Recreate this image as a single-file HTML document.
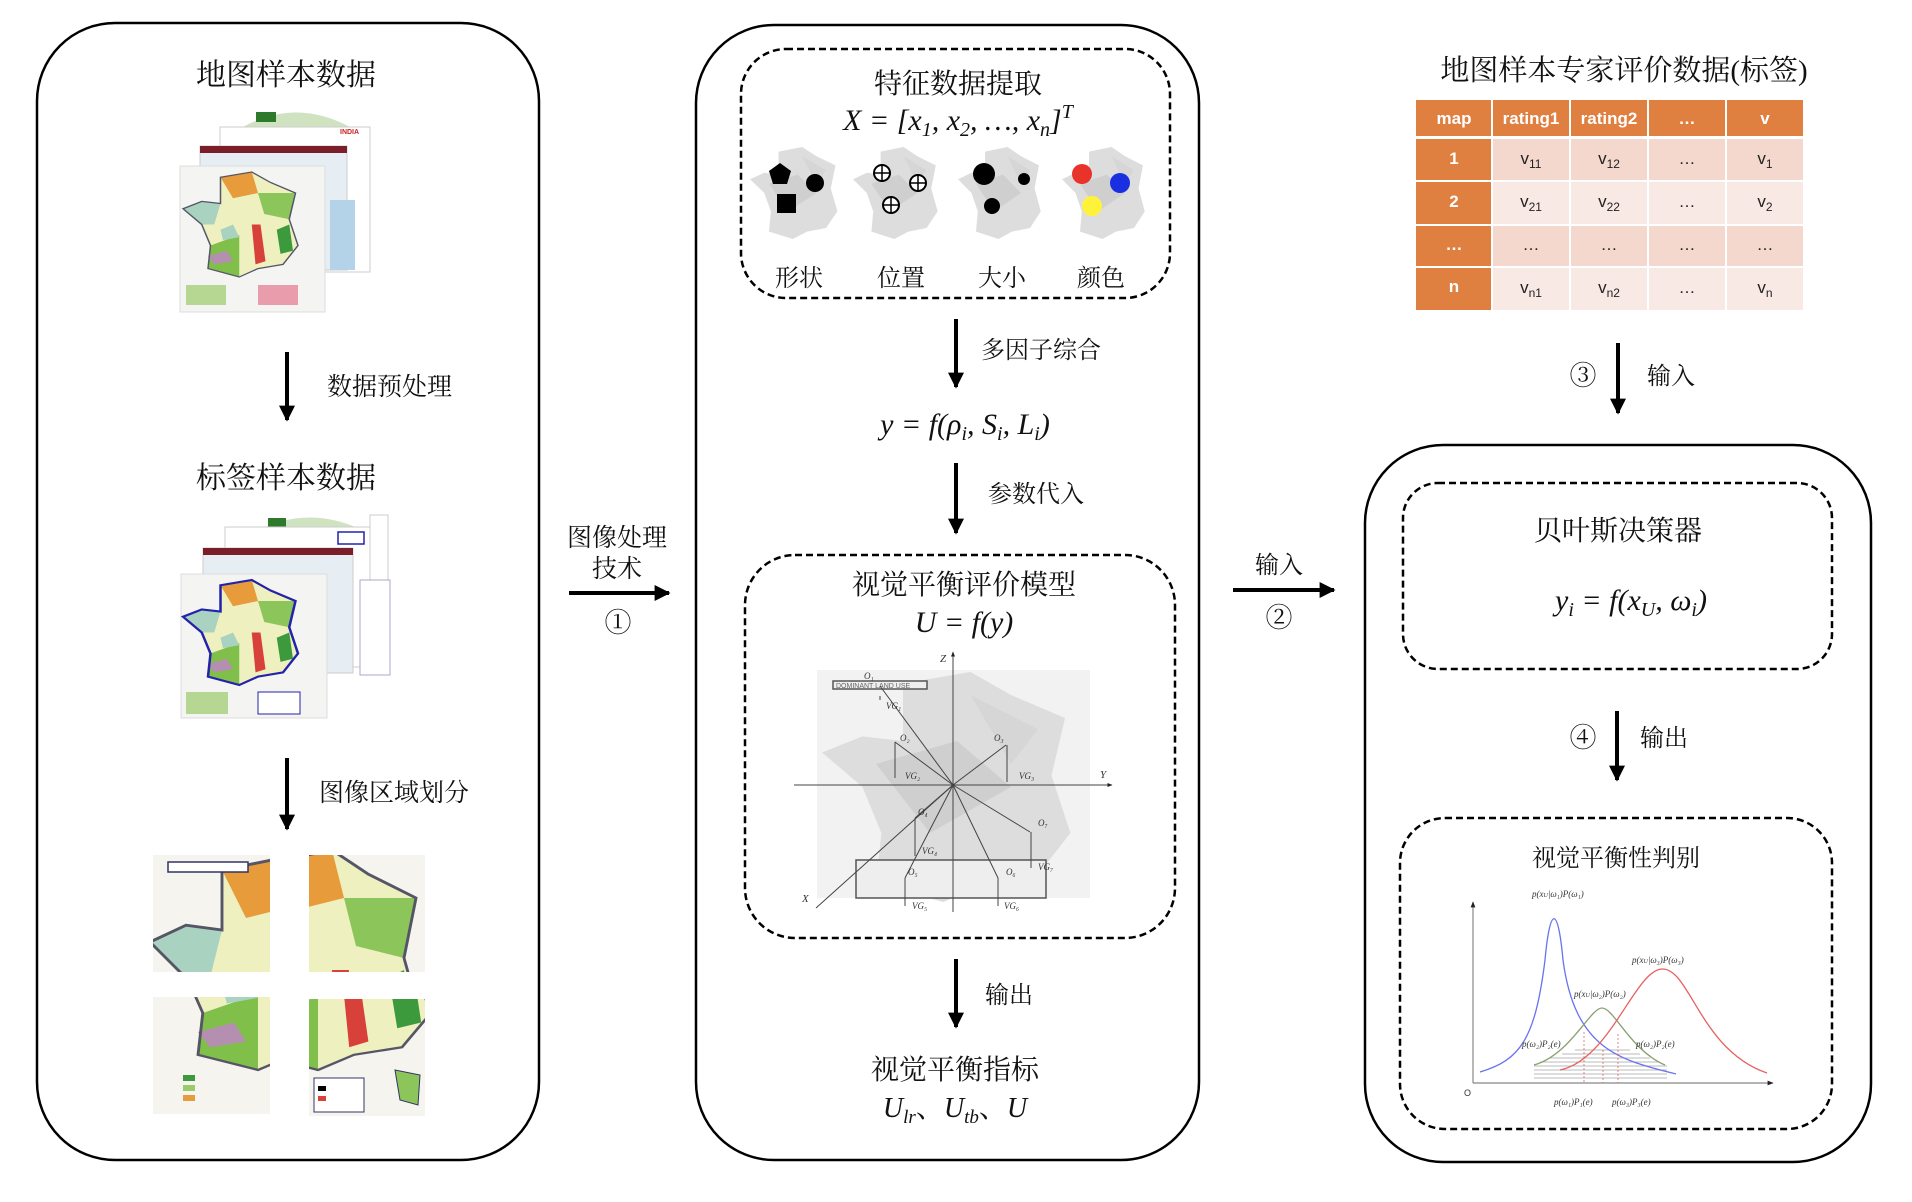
<!DOCTYPE html>
<html><head><meta charset="utf-8"><style>
html,body{margin:0;padding:0;background:#fff;}
svg{display:block;}
.cj{font-family:"Liberation Serif","Noto Serif CJK SC",serif;fill:#111;}
.m{font-family:"Liberation Serif",serif;font-style:italic;fill:#111;}
.tb{font-family:"Liberation Sans",sans-serif;font-size:17px;fill:#fff;font-weight:bold;text-anchor:middle;}
.td{font-family:"Liberation Sans",sans-serif;font-size:17px;fill:#222;text-anchor:middle;}
.s{font-family:"Liberation Serif",serif;font-style:italic;font-size:9px;fill:#333;}
</style></head><body>
<svg width="1912" height="1202" viewBox="0 0 1912 1202" xmlns="http://www.w3.org/2000/svg">
<defs>
<path id="fr" d="M30,5 L55,0 L70,10 L90,20 L85,45 L92,70 L80,88 L60,92 L45,100 L20,92 L22,70 L15,50 L0,35 L15,28 L30,30 Z"/>
<marker id="ah" viewBox="0 0 10 10" refX="9" refY="5" markerWidth="4" markerHeight="4" orient="auto"><path d="M0,0 L10,5 L0,10 Z" fill="#000"/></marker>
<marker id="sa" viewBox="0 0 10 10" refX="9" refY="5" markerWidth="5" markerHeight="5" orient="auto"><path d="M0,1 L10,5 L0,9 Z" fill="#222"/></marker>
<clipPath id="c1"><rect x="153" y="855" width="117" height="117"/></clipPath>
<clipPath id="c2"><rect x="309" y="855" width="116" height="117"/></clipPath>
<clipPath id="c3"><rect x="153" y="997" width="117" height="117"/></clipPath>
<clipPath id="c4"><rect x="309" y="999" width="116" height="117"/></clipPath>
<g id="cmap">
 <use href="#fr" fill="#eef0c0"/>
 <path d="M30,5 L55,0 L60,20 L40,25Z" fill="#e79b3a"/>
 <path d="M0,35 L15,28 L30,30 L25,50 L15,50Z" fill="#a9d3c0"/>
 <path d="M60,20 L90,20 L85,45 L65,40Z" fill="#8cc65a"/>
 <path d="M22,70 L45,60 L45,100 L20,92Z" fill="#7fbf4a"/>
 <path d="M55,50 L62,50 L66,85 L58,88Z" fill="#d8413a"/>
 <path d="M75,55 L85,50 L88,75 L78,78Z" fill="#3c9a3c"/>
 <path d="M30,55 L40,50 L45,62 L32,65Z" fill="#a9d3c0"/>
 <path d="M20,80 L35,75 L40,85 L25,88Z" fill="#b58fb0"/>
 <use href="#fr" fill="none" stroke="#556" stroke-width="1.2"/>
</g>
<g id="gmap"><use href="#fr" fill="#ddd"/><path d="M20,40 L50,30 L70,50 L40,70Z" fill="#cfcfcf"/><path d="M55,10 L80,25 L70,40Z" fill="#d6d6d6"/></g>
</defs>

<!-- panels -->
<rect x="37" y="23" width="502" height="1137" rx="78" fill="none" stroke="#000" stroke-width="2.5"/>
<rect x="696" y="25" width="503" height="1135" rx="78" fill="none" stroke="#000" stroke-width="2.5"/>
<rect x="1365" y="445" width="506" height="717" rx="78" fill="none" stroke="#000" stroke-width="2.5"/>
<rect x="741" y="49" width="429" height="249" rx="45" fill="none" stroke="#000" stroke-width="2.5" stroke-dasharray="7,4"/>
<rect x="745" y="555" width="430" height="383" rx="50" fill="none" stroke="#000" stroke-width="2.5" stroke-dasharray="7,4"/>
<rect x="1403" y="483" width="429" height="186" rx="35" fill="none" stroke="#000" stroke-width="2.5" stroke-dasharray="7,4"/>
<rect x="1400" y="818" width="432" height="311" rx="45" fill="none" stroke="#000" stroke-width="2.5" stroke-dasharray="7,4"/>

<!-- LEFT PANEL -->
<text class="cj" x="286" y="85" font-size="30" text-anchor="middle">地图样本数据</text>
<g>
 <path d="M243,127 Q296,98 350,127Z" fill="#cfe3c0"/><rect x="256" y="112" width="20" height="10" fill="#2d7a2d"/>
 <rect x="220" y="127" width="150" height="145" fill="#fff" stroke="#ccc"/>
 <text x="340" y="134" font-size="7" fill="#c22" font-family="Liberation Sans" font-weight="bold">INDIA</text>
 <rect x="200" y="146" width="147" height="124" fill="#e6eef4" stroke="#ccc"/>
 <rect x="200" y="146" width="147" height="7" fill="#7a1e2a"/>
 <rect x="330" y="200" width="25" height="70" fill="#b5d3e8"/>
 <rect x="180" y="166" width="145" height="146" fill="#f4f4f2" stroke="#ddd"/>
 <use href="#cmap" transform="translate(183,172) scale(1.25,1.05)"/>
 <rect x="186" y="285" width="40" height="20" fill="#9acb6a" opacity=".7"/><rect x="258" y="285" width="40" height="20" fill="#d46" opacity=".5"/>
</g>
<line x1="287" y1="352" x2="287" y2="420" stroke="#000" stroke-width="4" marker-end="url(#ah)"/>
<text class="cj" x="327" y="395" font-size="25">数据预处理</text>
<text class="cj" x="286" y="488" font-size="30" text-anchor="middle">标签样本数据</text>
<g>
 <path d="M258,530 Q310,505 362,530Z" fill="#cfe3c0"/><rect x="268" y="518" width="18" height="10" fill="#2d7a2d"/>
 <rect x="225" y="527" width="147" height="140" fill="#fff" stroke="#ccc"/>
 <rect x="338" y="532" width="26" height="12" fill="#fff" stroke="#22a" stroke-width="1.5"/>
 <rect x="370" y="515" width="18" height="100" fill="#fff" stroke="#ccc"/>
 <rect x="203" y="548" width="150" height="125" fill="#e6eef4" stroke="#ccc"/>
 <rect x="203" y="548" width="150" height="7" fill="#7a1e2a"/>
 <rect x="360" y="580" width="30" height="95" fill="#fff" stroke="#aac"/>
 <rect x="181" y="574" width="146" height="144" fill="#f4f4f2" stroke="#ddd"/>
 <use href="#cmap" transform="translate(183,580) scale(1.25,1.05)"/>
 <use href="#fr" transform="translate(183,580) scale(1.25,1.05)" fill="none" stroke="#22a" stroke-width="2"/>
 <rect x="186" y="692" width="42" height="22" fill="#9acb6a" opacity=".7"/><rect x="258" y="692" width="42" height="22" fill="#fff" stroke="#22a"/>
</g>
<line x1="287" y1="758" x2="287" y2="829" stroke="#000" stroke-width="4" marker-end="url(#ah)"/>
<text class="cj" x="319" y="801" font-size="25">图像区域划分</text>
<!-- tiles -->
<g clip-path="url(#c1)">
 <rect x="153" y="855" width="117" height="117" fill="#f5f4ee"/>
 <use href="#cmap" transform="translate(150,858) scale(2.4,2.4)"/>
 <rect x="168" y="862" width="80" height="10" fill="#fff" stroke="#336" stroke-width="1.5"/>
</g>
<g clip-path="url(#c2)">
 <rect x="309" y="855" width="116" height="117" fill="#f5f4ee"/>
 <use href="#cmap" transform="translate(200,850) scale(2.4,2.4)"/>
</g>
<g clip-path="url(#c3)">
 <rect x="153" y="997" width="117" height="117" fill="#f5f4ee"/>
 <use href="#cmap" transform="translate(150,880) scale(2.4,1.9)"/>
 <rect x="183" y="1075" width="12" height="6" fill="#3c9a3c"/><rect x="183" y="1085" width="12" height="6" fill="#9acb6a"/><rect x="183" y="1095" width="12" height="6" fill="#e79b3a"/>
</g>
<g clip-path="url(#c4)">
 <rect x="309" y="999" width="116" height="117" fill="#f5f4ee"/>
 <use href="#cmap" transform="translate(210,880) scale(2.4,1.9)"/>
 <rect x="314" y="1078" width="50" height="34" fill="#fff" stroke="#336"/>
 <rect x="318" y="1086" width="8" height="5" fill="#000"/><rect x="318" y="1096" width="8" height="5" fill="#d8413a"/>
 <path d="M395,1070 L420,1075 L418,1105 L400,1100Z" fill="#8cc65a" stroke="#336"/>
</g>

<!-- between 1 and 2 -->
<text class="cj" x="617" y="546" font-size="25" text-anchor="middle">图像处理</text>
<text class="cj" x="617" y="577" font-size="25" text-anchor="middle">技术</text>
<line x1="569" y1="593" x2="669" y2="593" stroke="#000" stroke-width="4" marker-end="url(#ah)"/>
<text class="cj" x="618" y="632" font-size="27" text-anchor="middle">①</text>

<!-- MIDDLE -->
<text class="cj" x="958" y="93" font-size="28" text-anchor="middle">特征数据提取</text>
<text class="m" x="958" y="130" font-size="30" text-anchor="middle">X = [x<tspan font-size="20" dy="6">1</tspan><tspan dy="-6">, x</tspan><tspan font-size="20" dy="6">2</tspan><tspan dy="-6">, …, x</tspan><tspan font-size="20" dy="6">n</tspan><tspan dy="-6">]</tspan><tspan font-size="20" dy="-12">T</tspan></text>
<use href="#gmap" transform="translate(750,147) scale(0.95,0.92)"/>
<use href="#gmap" transform="translate(853,147) scale(0.92,0.92)"/>
<use href="#gmap" transform="translate(958,147) scale(0.9,0.92)"/>
<use href="#gmap" transform="translate(1062,147) scale(0.9,0.92)"/>
<path d="M780,163 L791,171 L787,184 L773,184 L769,171Z" fill="#000"/>
<circle cx="815" cy="183" r="9" fill="#000"/>
<rect x="777" y="194" width="19" height="19" fill="#000"/>
<g fill="#fff" stroke="#000" stroke-width="2">
 <circle cx="882" cy="173" r="8"/><circle cx="918" cy="183" r="8"/><circle cx="891" cy="205" r="8"/>
</g>
<g stroke="#000" stroke-width="1.5">
 <path d="M874,173 H890 M882,165 V181 M910,183 H926 M918,175 V191 M883,205 H899 M891,197 V213"/>
</g>
<circle cx="984" cy="174" r="11" fill="#000"/><circle cx="1024" cy="179" r="6" fill="#000"/><circle cx="992" cy="206" r="8" fill="#000"/>
<circle cx="1082" cy="174" r="10" fill="#e8332a"/><circle cx="1120" cy="183" r="10" fill="#1a2fe0"/><circle cx="1092" cy="206" r="10" fill="#fef33a"/>
<text class="cj" x="799" y="286" font-size="24" text-anchor="middle">形状</text>
<text class="cj" x="901" y="286" font-size="24" text-anchor="middle">位置</text>
<text class="cj" x="1002" y="286" font-size="24" text-anchor="middle">大小</text>
<text class="cj" x="1101" y="286" font-size="24" text-anchor="middle">颜色</text>

<line x1="956" y1="319" x2="956" y2="387" stroke="#000" stroke-width="4" marker-end="url(#ah)"/>
<text class="cj" x="981" y="358" font-size="24">多因子综合</text>
<text class="m" x="965" y="434" font-size="30" text-anchor="middle">y = f(ρ<tspan font-size="20" dy="6">i</tspan><tspan dy="-6">, S</tspan><tspan font-size="20" dy="6">i</tspan><tspan dy="-6">, L</tspan><tspan font-size="20" dy="6">i</tspan><tspan dy="-6">)</tspan></text>
<line x1="956" y1="463" x2="956" y2="533" stroke="#000" stroke-width="4" marker-end="url(#ah)"/>
<text class="cj" x="988" y="502" font-size="24">参数代入</text>

<text class="cj" x="964" y="594" font-size="28" text-anchor="middle">视觉平衡评价模型</text>
<text class="m" x="964" y="632" font-size="30" text-anchor="middle">U = f(y)</text>
<!-- model image -->
<rect x="817" y="670" width="273" height="228" fill="#f2f2f2"/>
<use href="#gmap" transform="translate(822,672) scale(2.7,2.3)"/>
<rect x="833" y="681" width="94" height="8" fill="#eee" stroke="#555" stroke-width="1.5"/>
<text x="836" y="688" font-size="7" fill="#666" font-family="Liberation Sans">DOMINANT LAND USE</text>
<rect x="856" y="860" width="190" height="38" fill="#eee" stroke="#555" stroke-width="1.5"/>
<line x1="794" y1="785" x2="1112" y2="785" stroke="#444" stroke-width="1" marker-end="url(#sa)"/>
<line x1="953" y1="912" x2="953" y2="652" stroke="#444" stroke-width="1" marker-end="url(#sa)"/>
<g stroke="#444" stroke-width="1">
 <line x1="953" y1="785" x2="816" y2="908"/>
 <line x1="953" y1="785" x2="880" y2="686"/>
 <line x1="953" y1="785" x2="895" y2="742"/>
 <line x1="953" y1="785" x2="1006" y2="745"/>
 <line x1="953" y1="785" x2="915" y2="818"/>
 <line x1="953" y1="785" x2="905" y2="878"/>
 <line x1="953" y1="785" x2="998" y2="878"/>
 <line x1="953" y1="785" x2="1030" y2="832"/>
 <line x1="880" y1="696" x2="880" y2="700"/><line x1="895" y1="742" x2="895" y2="778"/><line x1="1007" y1="745" x2="1007" y2="782"/>
 <line x1="915" y1="818" x2="915" y2="856"/><line x1="905" y1="878" x2="905" y2="906"/><line x1="998" y1="878" x2="998" y2="906"/><line x1="1031" y1="832" x2="1031" y2="868"/>
</g>
<g class="s" font-size="10">
 <text x="864" y="679">O₁</text><text x="886" y="709">VG₁</text><text x="900" y="741">O₂</text><text x="905" y="779">VG₂</text>
 <text x="994" y="741">O₃</text><text x="1019" y="779">VG₃</text><text x="918" y="815">O₄</text><text x="922" y="854">VG₄</text>
 <text x="908" y="875">O₅</text><text x="912" y="909">VG₅</text><text x="1006" y="875">O₆</text><text x="1004" y="909">VG₆</text>
 <text x="1038" y="826">O₇</text><text x="1038" y="870">VG₇</text>
 <text x="940" y="662" font-size="11">Z</text><text x="1100" y="778" font-size="11">Y</text><text x="802" y="902" font-size="11">X</text>
</g>

<line x1="956" y1="959" x2="956" y2="1027" stroke="#000" stroke-width="4" marker-end="url(#ah)"/>
<text class="cj" x="985" y="1003" font-size="24">输出</text>
<text class="cj" x="955" y="1079" font-size="28" text-anchor="middle">视觉平衡指标</text>
<text class="m" x="955" y="1117" font-size="28" text-anchor="middle">U<tspan font-size="19" dy="6">lr</tspan><tspan dy="-6" font-style="normal" font-family="Noto Serif CJK SC">、</tspan>U<tspan font-size="19" dy="6">tb</tspan><tspan dy="-6" font-style="normal" font-family="Noto Serif CJK SC">、</tspan>U</text>

<!-- between 2 and 3 -->
<text class="cj" x="1279" y="573" font-size="24" text-anchor="middle">输入</text>
<line x1="1233" y1="590" x2="1334" y2="590" stroke="#000" stroke-width="4" marker-end="url(#ah)"/>
<text class="cj" x="1279" y="627" font-size="27" text-anchor="middle">②</text>

<!-- RIGHT -->
<text class="cj" x="1624" y="80" font-size="29" text-anchor="middle">地图样本专家评价数据(标签)</text>
<g>
 <rect x="1416" y="100" width="387" height="36" fill="#df7f40"/>
 <rect x="1416" y="139" width="75" height="171" fill="#df7f40"/>
 <rect x="1493" y="139" width="310" height="41" fill="#f4d8cd"/>
 <rect x="1493" y="182" width="310" height="42" fill="#f9e9e4"/>
 <rect x="1493" y="226" width="310" height="40" fill="#f4d8cd"/>
 <rect x="1493" y="268" width="310" height="42" fill="#f9e9e4"/>
 <g stroke="#fff" stroke-width="2"><line x1="1492" y1="100" x2="1492" y2="310"/><line x1="1570" y1="100" x2="1570" y2="310"/><line x1="1648" y1="100" x2="1648" y2="310"/><line x1="1726" y1="100" x2="1726" y2="310"/><line x1="1416" y1="181" x2="1803" y2="181"/><line x1="1416" y1="225" x2="1803" y2="225"/><line x1="1416" y1="267" x2="1803" y2="267"/></g>
 <line x1="1416" y1="137.5" x2="1803" y2="137.5" stroke="#fff" stroke-width="3"/>
 <text class="tb" x="1454" y="124">map</text><text class="tb" x="1531" y="124">rating1</text><text class="tb" x="1609" y="124">rating2</text><text class="tb" x="1687" y="124">…</text><text class="tb" x="1765" y="124">v</text>
 <text class="tb" x="1454" y="164">1</text><text class="tb" x="1454" y="207">2</text><text class="tb" x="1454" y="250">…</text><text class="tb" x="1454" y="292">n</text>
 <text class="td" x="1531" y="164">v<tspan font-size="12" dy="4">11</tspan></text><text class="td" x="1609" y="164">v<tspan font-size="12" dy="4">12</tspan></text><text class="td" x="1687" y="164">…</text><text class="td" x="1765" y="164">v<tspan font-size="12" dy="4">1</tspan></text>
 <text class="td" x="1531" y="207">v<tspan font-size="12" dy="4">21</tspan></text><text class="td" x="1609" y="207">v<tspan font-size="12" dy="4">22</tspan></text><text class="td" x="1687" y="207">…</text><text class="td" x="1765" y="207">v<tspan font-size="12" dy="4">2</tspan></text>
 <text class="td" x="1531" y="250">…</text><text class="td" x="1609" y="250">…</text><text class="td" x="1687" y="250">…</text><text class="td" x="1765" y="250">…</text>
 <text class="td" x="1531" y="293">v<tspan font-size="12" dy="4">n1</tspan></text><text class="td" x="1609" y="293">v<tspan font-size="12" dy="4">n2</tspan></text><text class="td" x="1687" y="293">…</text><text class="td" x="1765" y="293">v<tspan font-size="12" dy="4">n</tspan></text>
</g>
<text class="cj" x="1583" y="385" font-size="27" text-anchor="middle">③</text>
<line x1="1618" y1="343" x2="1618" y2="413" stroke="#000" stroke-width="4" marker-end="url(#ah)"/>
<text class="cj" x="1647" y="384" font-size="24">输入</text>

<text class="cj" x="1618" y="540" font-size="28" text-anchor="middle">贝叶斯决策器</text>
<text class="m" x="1631" y="610" font-size="30" text-anchor="middle">y<tspan font-size="20" dy="6">i</tspan><tspan dy="-6"> = f(x</tspan><tspan font-size="20" dy="6">U</tspan><tspan dy="-6">, ω</tspan><tspan font-size="20" dy="6">i</tspan><tspan dy="-6">)</tspan></text>
<text class="cj" x="1583" y="747" font-size="27" text-anchor="middle">④</text>
<line x1="1617" y1="711" x2="1617" y2="780" stroke="#000" stroke-width="4" marker-end="url(#ah)"/>
<text class="cj" x="1640" y="746" font-size="24">输出</text>

<text class="cj" x="1616" y="866" font-size="24" text-anchor="middle">视觉平衡性判别</text>
<!-- chart -->
<g>
 <g stroke="#bbb" stroke-width="1">
  <line x1="1534" y1="1070" x2="1667" y2="1070"/><line x1="1534" y1="1074" x2="1667" y2="1074"/><line x1="1534" y1="1078" x2="1667" y2="1078"/><line x1="1534" y1="1066" x2="1667" y2="1066"/><line x1="1540" y1="1062" x2="1660" y2="1062"/><line x1="1550" y1="1058" x2="1650" y2="1058"/><line x1="1562" y1="1054" x2="1640" y2="1054"/><line x1="1575" y1="1050" x2="1630" y2="1050"/>
 </g>
 <line x1="1473" y1="1083" x2="1473" y2="902" stroke="#888" stroke-width="1.2" marker-end="url(#sa)"/>
 <line x1="1473" y1="1083" x2="1773" y2="1083" stroke="#888" stroke-width="1.2" marker-end="url(#sa)"/>
 <path d="M1480,1072 C1520,1060 1535,1040 1545,960 C1550,905 1558,905 1563,960 C1575,1050 1620,1060 1676,1074" fill="none" stroke="#6a72f0" stroke-width="1.3"/>
 <path d="M1534,1065 C1570,1055 1590,1008 1602,1008 C1614,1008 1630,1050 1665,1065" fill="none" stroke="#8aa070" stroke-width="1.3"/>
 <path d="M1560,1070 C1610,1060 1635,970 1662,969 C1690,968 1700,1050 1767,1073" fill="none" stroke="#e86060" stroke-width="1.3"/>
 <g stroke="#d66" stroke-width="0.8" stroke-dasharray="2,2"><line x1="1584" y1="1032" x2="1584" y2="1083"/><line x1="1603" y1="1050" x2="1603" y2="1083"/><line x1="1618" y1="1034" x2="1618" y2="1083"/></g>
 <g class="s"><text x="1532" y="897">p(x<tspan font-size="6">U</tspan>|ω₁)P(ω₁)</text><text x="1632" y="963">p(x<tspan font-size="6">U</tspan>|ω₃)P(ω₃)</text><text x="1574" y="997">p(x<tspan font-size="6">U</tspan>|ω₂)P(ω₂)</text>
 <text x="1522" y="1047">p(ω₂)P₂(e)</text><text x="1636" y="1047">p(ω₂)P₂(e)</text><text x="1554" y="1105">p(ω₁)P₁(e)</text><text x="1612" y="1105">p(ω₃)P₃(e)</text>
 <text x="1464" y="1096" font-style="normal" font-family="Liberation Sans">O</text></g>
</g>
</svg>
</body></html>
